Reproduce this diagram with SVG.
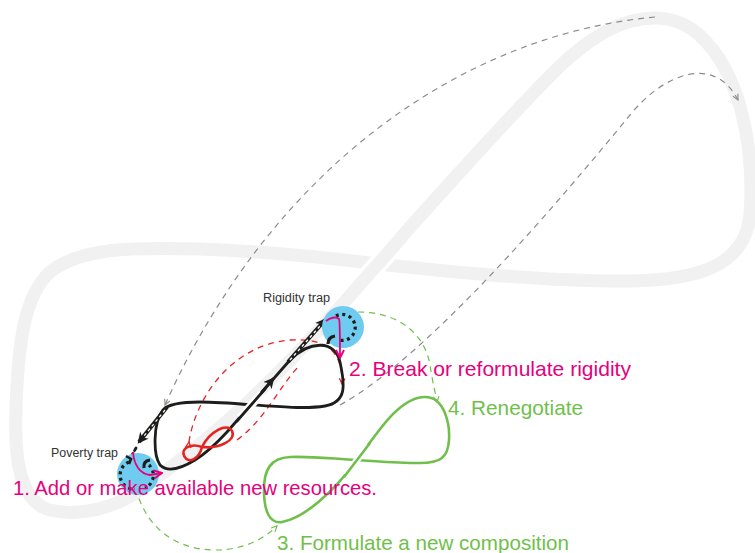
<svg xmlns="http://www.w3.org/2000/svg" width="755" height="553" viewBox="0 0 755 553">
<style>
.band{fill:none;stroke:#f1f1f1;stroke-width:13;stroke-linejoin:round}
.gdash{fill:none;stroke:#8c8c8c;stroke-width:1.2;stroke-dasharray:6 5}
.blk{fill:none;stroke:#1d1d1b;stroke-width:2.8;stroke-linecap:round;stroke-linejoin:round}
.hatch{fill:none;stroke:#fff;stroke-width:1.2;stroke-dasharray:3 3}
.red{fill:none;stroke:#e52421;stroke-width:2.6}
.rdash{fill:none;stroke:#e52421;stroke-width:1.3;stroke-dasharray:6 5}
.grn{fill:none;stroke:#70bf4b;stroke-width:2.6}
.gndash{fill:none;stroke:#70bf4b;stroke-width:1.2;stroke-dasharray:6 5}
.mag{fill:none;stroke:#e5007d;stroke-width:1.8}
.dots{fill:none;stroke:#1d1d1b;stroke-width:3.2;stroke-dasharray:3 3.5}
.trap{fill:#6fcbef}
.lbl{font-family:"Liberation Sans",Arial,sans-serif;font-size:12px;fill:#333}
.big{font-family:"Liberation Sans",Arial,sans-serif;font-size:21px}
.m{fill:#e5007d}
.g{fill:#70bf4b}
</style>
<defs>
<marker id="aGray" viewBox="0 0 10 10" refX="9" refY="5" markerWidth="7" markerHeight="7" markerUnits="userSpaceOnUse" orient="auto"><path d="M1 1L9 5L1 9" fill="none" stroke="#8c8c8c" stroke-width="1.6"/></marker>
<marker id="aRed" viewBox="0 0 10 10" refX="9" refY="5" markerWidth="7" markerHeight="7" markerUnits="userSpaceOnUse" orient="auto"><path d="M1 1L9 5L1 9" fill="none" stroke="#e52421" stroke-width="1.8"/></marker>
<marker id="aGrn" viewBox="0 0 10 10" refX="9" refY="5" markerWidth="7" markerHeight="7" markerUnits="userSpaceOnUse" orient="auto"><path d="M1 1L9 5L1 9" fill="none" stroke="#70bf4b" stroke-width="1.6"/></marker>
<marker id="aMag" viewBox="0 0 10 10" refX="9" refY="5" markerWidth="10" markerHeight="10" markerUnits="userSpaceOnUse" orient="auto"><path d="M1 1L9 5L1 9" fill="none" stroke="#e5007d" stroke-width="1.9"/></marker>
<marker id="aBlk" viewBox="0 0 10 10" refX="8" refY="5" markerWidth="11" markerHeight="11" markerUnits="userSpaceOnUse" orient="auto"><path d="M0 0L10 5L0 10L3 5Z" fill="#1d1d1b"/></marker>
</defs>

<g id="background-band">
<path class="band" d="M378 264C450 272 560 282 630 281C700 280 745 265 750 215C754 160 745 100 720 60C702 32 682 18 655 18C620 18 590 38 560 66C520 105 420 215 378 264C345 302 300 353 247 403C215 433 175 465 140 490C115 508 80 517 50 510C20 502 14 460 16 410C18 340 25 295 50 272C80 248 130 247 200 249C260 251 330 258 378 264Z"/>
<path d="M400 239L356 289" stroke="#fff" stroke-width="20" fill="none"/>
<path d="M402 237L354 291" stroke="#f1f1f1" stroke-width="13" fill="none"/>
</g>

<g id="connectors">
<path class="gdash" d="M655 17C460 35 270 170 165 405" marker-end="url(#aGray)"/>
<path class="gdash" d="M340 405C430 355 560 200 630 115C665 72 715 55 738 100" marker-end="url(#aGray)"/>
<path class="gndash" d="M133 466C135 520 170 550 215 550C245 550 265 538 277 526" marker-end="url(#aGrn)"/>
<path class="gndash" d="M358 312C400 312 425 335 430 365C433 385 436 395 437 402" marker-end="url(#aGrn)"/>
<path class="rdash" d="M189 442C195 400 230 345 290 340C325 338 343 350 342 384" marker-end="url(#aRed)" marker-start="url(#aRed)"/>
<path class="rdash" d="M237 440C265 420 280 385 300 365"/>

<g id="green-loop">
<path class="grn" d="M357 460C375 437 398 397 425 397C445 397 450 425 449 440C448 458 440 463 420 463C395 463 375 461 357 460C335 459 310 456 290 457C270 458 264 470 264 490C264 512 270 524 282 522C305 518 335 490 357 460Z"/>
<path d="M346 475L368 445" stroke="#fff" stroke-width="7" fill="none"/>
<path class="grn" d="M344 477L370 443"/>
</g>

<g id="black-loop">
<path class="blk" d="M290 360C310 340 335 340 340 362C345 385 347 402 325 406C295 411 240 402 200 402C180 402 168 404 163 410C153 422 153 455 160 465C168 473 182 468 195 460C205 454 215 445 227 432L290 360"/>
<path d="M240 418L262 393" stroke="#fff" stroke-width="8" fill="none"/>
<path class="blk" d="M237 421L265 389"/>
<path class="blk" d="M262 392L273 379" marker-end="url(#aBlk)"/>
<path d="M288 362L325 320" stroke="#1d1d1b" stroke-width="4" fill="none" marker-end="url(#aBlk)"/>
<path class="hatch" d="M290 360L320 326"/>
<path d="M167 407L139 442" stroke="#1d1d1b" stroke-width="4" fill="none" marker-end="url(#aBlk)"/>
<path class="hatch" d="M165 410L144 436"/>
<path class="blk" d="M136 448L131 457" stroke-dasharray="3 3"/>
</g>

<path id="red-eight" class="red" transform="translate(202 447) rotate(-28)" d="M0 0C14 -10 34 -10 34 0C34 10 14 10 0 0C-8 -9 -20 -9 -20 0C-20 9 -8 9 0 0Z"/>
</g>

<g id="rigidity-trap">
<circle class="trap" cx="343" cy="327" r="21"/>
<path class="dots" d="M336 316A13 13 0 1 1 339 340"/>
<path d="M328 344Q328 337 335 336" stroke="#1d1d1b" stroke-width="3.2" fill="none"/>
<path class="mag" d="M326 321C330 318 336 316 339 319C340 321 340 330 340 358" marker-end="url(#aMag)"/>
<text class="lbl" x="263" y="302" textLength="67" lengthAdjust="spacingAndGlyphs">Rigidity trap</text>
</g>

<g id="poverty-trap">
<circle class="trap" cx="138" cy="474" r="21"/>
<path class="dots" d="M129 462A14 14 0 0 0 135 489"/>
<path class="dots" d="M149 465A14 14 0 0 1 145 488"/>
<path d="M144 468Q143 461 150 460" stroke="#1d1d1b" stroke-width="3.2" fill="none"/>
<path d="M126 456L131 459L129 464" stroke="#1d1d1b" stroke-width="2.6" fill="none"/>
<path class="mag" d="M133 452C134 465 140 474 150 475L162 473" marker-end="url(#aMag)"/>
<text class="lbl" x="51" y="457" textLength="67" lengthAdjust="spacingAndGlyphs">Poverty trap</text>
</g>

<g id="labels">
<text class="big m" x="13" y="495" textLength="364" lengthAdjust="spacingAndGlyphs">1. Add or make available new resources.</text>
<text class="big m" x="349" y="376" textLength="282" lengthAdjust="spacingAndGlyphs">2. Break or reformulate rigidity</text>
<text class="big g" x="448" y="415" textLength="135" lengthAdjust="spacingAndGlyphs">4. Renegotiate</text>
<text class="big g" x="277" y="550" textLength="292" lengthAdjust="spacingAndGlyphs">3. Formulate a new composition</text>
</g>
</svg>
